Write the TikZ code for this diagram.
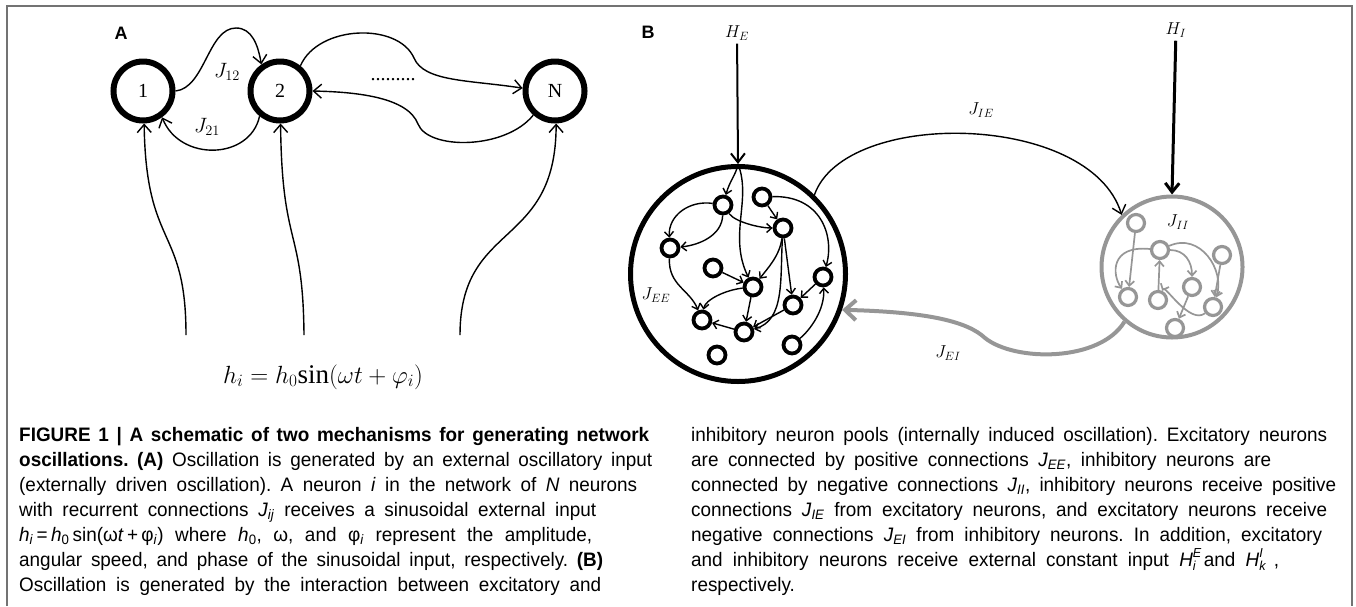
\documentclass[tikz,border=0pt]{standalone}
\usepackage{fontspec}
\setmainfont{Liberation Serif}
\newfontfamily\capfont[FakeStretch=0.97]{Liberation Sans}
\newfontfamily\panelfont{Liberation Sans}
\usetikzlibrary{arrows.meta}
\definecolor{inhib}{RGB}{150,150,150}
\definecolor{framegray}{RGB}{115,115,115}
\newcommand{\capJ}[1]{\textit{J}\textsubscript{\textit{#1}}}
\newcommand{\capH}[2]{\textit{H}\rlap{\raisebox{0.42em}{\fontsize{13}{13}\selectfont\textit{#1}}}\raisebox{-0.25em}{\fontsize{13}{13}\selectfont\textit{#2}}\kern0.4em}
\begin{document}
\frenchspacing
\begin{tikzpicture}[
    x=1pt, y=-1pt,
    unit/.style={circle, draw, line width=6pt, minimum size=59pt, inner sep=0pt, font=\fontsize{20}{20}\selectfont},
    pool/.style={circle, draw, line width=5pt, minimum size=215pt, inner sep=0pt},
    ipool/.style={circle, draw=inhib, line width=4pt, minimum size=141pt, inner sep=0pt},
    cell/.style={circle, draw, line width=3.8pt, minimum size=17pt, inner sep=0pt},
    icell/.style={circle, draw=inhib, line width=3.2pt, minimum size=17pt, inner sep=0pt},
    lbl/.style={font=\fontsize{20}{20}\selectfont},
    blbl/.style={font=\fontsize{18}{18}\selectfont},
    panel/.style={font=\panelfont\bfseries\fontsize{18}{18}\selectfont},
    conn/.style={line width=1.4pt, -{Straight Barb[length=8pt, width=14pt]}},
    econn/.style={line width=1.4pt, -{Straight Barb[length=5pt, width=9pt]}},
    iconn/.style={draw=inhib, line width=1.7pt, -{Straight Barb[length=5pt, width=9pt]}},
    capline/.style={anchor=base west, inner sep=0pt, font=\capfont\fontsize{19.5}{25}\selectfont}
]
\useasboundingbox (0,0) rectangle (1356,606);
\draw[framegray, line width=2pt] (7,606) -- (7,6) -- (1352,6) -- (1352,606);

% panel A
\node[panel] (labA) at (121,33) {A};
\node[unit] (n1) at (143,91) {1};
\node[unit] (n2) at (280,91) {2};
\node[unit] (nN) at (555,91) {N};
\node[lbl] (j12) at (227,72) {$J_{12}$};
\node[lbl] (j21) at (207,127) {$J_{21}$};
\node[lbl] (dots) at (393,80) {.........};
\draw[conn] (n1.east) .. controls (205,88) and (208,28) .. (236,28) .. controls (252,28) and (258,45) .. (n2.125);
\draw[conn] (n2.-129) .. controls (250,160) and (180,162) .. (n1.-54);
\draw[conn] (n2.51) .. controls (318,25) and (398,22) .. (414,58) .. controls (424,82) and (470,80) .. (nN.175);
\draw[conn] (nN.-132) .. controls (505,150) and (428,150) .. (418,124) .. controls (408,98) and (360,92) .. (n2.east);
\coordinate (in1) at (186,335);
\coordinate (in2) at (304,335);
\coordinate (inN) at (460,335);
\draw[conn] (in1) .. controls (186,225) and (146,250) .. (n1.-88);
\draw[conn] (in2) .. controls (303,225) and (282,250) .. (n2.-89);
\draw[conn] (inN) .. controls (460,220) and (556,250) .. (nN.-88);
\node[anchor=base, font=\fontsize{27}{27}\selectfont] (hform) at (323,383) {$h_i = h_0\mathrm{sin}(\omega t + \varphi_i)$};

% panel B
\node[panel] (labB) at (648,32) {B};
\node[pool] (E) at (738,274) {};
\node[ipool] (I) at (1172,267) {};
\node[blbl] (he) at (737,33) {$H_E$};
\node[blbl] (hi) at (1176,30) {$H_I$};
\node[blbl] (jie) at (981,110) {$J_{IE}$};
\node[blbl] (jii) at (1178,222) {$J_{II}$};
\node[blbl] (jee) at (656,295) {$J_{EE}$};
\node[blbl] (jei) at (948,353) {$J_{EI}$};
\draw[line width=2pt, -{Straight Barb[length=9pt, width=14pt]}] (he) -- (E.north);
\draw[line width=3pt, -{Straight Barb[length=9pt, width=14pt]}] (hi) -- (I.north);
\draw[conn] (E.46) .. controls (845,108) and (1090,112) .. (I.134);
\draw[draw=inhib, line width=4pt, -{Straight Barb[length=11pt, width=20pt]}] (I.-131) .. controls (1100,362) and (1015,362) .. (985,338) .. controls (968,322) and (930,312) .. (E.-19);

% excitatory pool
\node[cell] (e1) at (723,205) {};
\node[cell] (e2) at (762,197) {};
\node[cell] (e3) at (783,228) {};
\node[cell] (e4) at (670,248) {};
\node[cell] (e5) at (713,268) {};
\node[cell] (e6) at (753,287) {};
\node[cell] (e7) at (823,277) {};
\node[cell] (e8) at (793,305) {};
\node[cell] (e9) at (702,320) {};
\node[cell] (e10) at (744,332) {};
\node[cell] (e11) at (717,355) {};
\node[cell] (e12) at (792,345) {};
\draw[econn] (E.north) .. controls (736,175) and (730,180) .. (e1);
\draw[econn] (E.north) .. controls (752,200) and (728,235) .. (e6);
\draw[econn] (e1) .. controls (690,200) and (668,215) .. (e4);
\draw[econn] (e1) .. controls (722,235) and (700,245) .. (e4);
\draw[econn] (e1) .. controls (735,222) and (760,228) .. (e3);
\draw[econn] (e2) -- (e3);
\draw[econn] (e2) .. controls (820,195) and (835,235) .. (e7);
\draw[econn] (e3) .. controls (780,255) and (768,268) .. (e6);
\draw[econn] (e3) -- (e8);
\draw[econn] (e3) .. controls (780,280) and (785,320) .. (e10);
\draw[econn] (e4) .. controls (668,285) and (690,290) .. (e9);
\draw[econn] (e5) -- (e6);
\draw[econn] (e6) .. controls (725,290) and (705,300) .. (e9);
\draw[econn] (e6) -- (e10);
\draw[econn] (e7) -- (e8);
\draw[econn] (e12) .. controls (810,330) and (825,310) .. (e7);
\draw[econn] (e10) -- (e9);
\draw[econn] (e8) -- (e10);

% inhibitory pool
\node[icell] (i1) at (1136,223) {};
\node[icell] (i2) at (1160,250) {};
\node[icell] (i3) at (1222,255) {};
\node[icell] (i4) at (1128,297) {};
\node[icell] (i5) at (1158,300) {};
\node[icell] (i6) at (1192,287) {};
\node[icell] (i7) at (1213,307) {};
\node[icell] (i8) at (1175,328) {};
\draw[iconn] (i1) -- (i4);
\draw[iconn] (i5) -- (i2);
\draw[iconn] (i2) .. controls (1110,245) and (1112,275) .. (i4);
\draw[iconn] (i2) .. controls (1185,250) and (1192,262) .. (i6);
\draw[iconn] (i2) .. controls (1200,232) and (1225,270) .. (i7);
\draw[iconn] (i3) -- (i7);
\draw[iconn] (i6) -- (i8);
\draw[iconn] (i7) .. controls (1190,325) and (1165,285) .. (i5);

% caption
\node[capline] (cl1) at (19,441) {\hbox to 630pt{\bfseries FIGURE 1 | A schematic of two mechanisms for generating network}};
\node[capline] (cl2) at (19,466) {\hbox to 633pt{\textbf{oscillations. (A)} Oscillation is generated by an external oscillatory input}};
\node[capline] (cl3) at (19,491) {\hbox to 618pt{(externally driven oscillation). A neuron \textit{i} in the network of \textit{N} neurons}};
\node[capline] (cl4) at (19,516) {\hbox to 577pt{with recurrent connections \capJ{ij} receives a sinusoidal external input}};
\node[capline] (cl5) at (19,541) {\hbox to 573pt{\textit{h}\textsubscript{\textit{i}}\,=\,\textit{h}\textsubscript{0}\,sin(ω\textit{t}\,+\,φ\textsubscript{\textit{i}}) where \textit{h}\textsubscript{0}, ω, and φ\textsubscript{\textit{i}} represent the amplitude,}};
\node[capline] (cl6) at (19,566) {\hbox to 584pt{angular speed, and phase of the sinusoidal input, respectively. \textbf{(B)}}};
\node[capline] (cl7) at (19,591) {\hbox to 582pt{Oscillation is generated by the interaction between excitatory and}};
\node[capline] (cr1) at (691,441) {\hbox to 636pt{inhibitory neuron pools (internally induced oscillation). Excitatory neurons}};
\node[capline] (cr2) at (691,466) {\hbox to 580pt{are connected by positive connections \capJ{EE}, inhibitory neurons are}};
\node[capline] (cr3) at (691,491) {\hbox to 645pt{connected by negative connections \capJ{II}, inhibitory neurons receive positive}};
\node[capline] (cr4) at (691,516) {\hbox to 636pt{connections \capJ{IE} from excitatory neurons, and excitatory neurons receive}};
\node[capline] (cr5) at (691,541) {\hbox to 631pt{negative connections \capJ{EI} from inhibitory neurons. In addition, excitatory}};
\node[capline] (cr6) at (691,566) {\hbox to 588pt{and inhibitory neurons receive external constant input \capH{E}{i}and \capH{I}{k},}};
\node[capline] (cr7) at (691,591) {respectively.};
\end{tikzpicture}
\end{document}
